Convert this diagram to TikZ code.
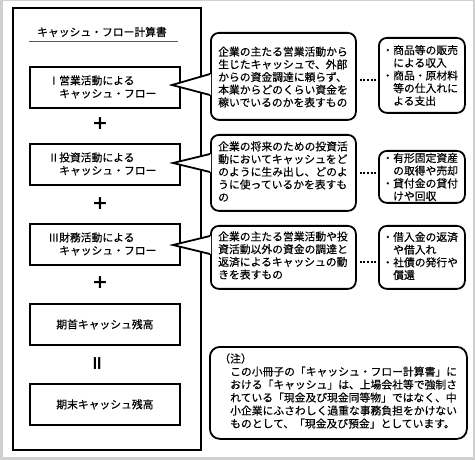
\documentclass[tikz,border=0pt]{standalone}
\usepackage{fontspec}
\setmainfont{Noto Sans CJK JP}[FakeBold=0.35]
\newfontfamily\symfont{DejaVu Sans}
\definecolor{framegray}{RGB}{208,208,208}
\definecolor{rulegray}{RGB}{90,90,90}
\begin{document}
\begin{tikzpicture}[x=1pt,y=-1pt,
  txt/.style={inner sep=0pt, align=left, font=\fontsize{10.8}{12.7}\selectfont},
  boxtxt/.style={inner sep=0pt, align=left, font=\fontsize{10.8}{13}\selectfont},
  sqbox/.style={draw, line width=1.8pt, fill=white, inner sep=0pt, anchor=north west},
  rbox/.style={draw, line width=1.8pt, fill=white, inner sep=0pt, anchor=north west, rounded corners=8pt},
  pointer/.style={line width=1.8pt, line join=miter},
  dotconn/.style={line width=2pt, dash pattern=on 2pt off 1.6pt, shorten <=3pt, shorten >=2pt},
  sym/.style={inner sep=0pt, font=\symfont\bfseries\fontsize{19}{19}\selectfont}]
\useasboundingbox (0,0) rectangle (475,460);
\fill[framegray] (0,0) rectangle (475,460);
\fill[white] (2.5,1) rectangle (473,457);

% outer frame
\node[sqbox, minimum width=188pt, minimum height=442pt] (outer) at (12,7) {};
\node[txt, anchor=center] (title) at (102,32) {キャッシュ・フロー計算書};
\draw[rulegray, line width=0.9pt] (29,41) -- (178,41);

% left boxes
\node[sqbox, minimum width=150pt, minimum height=41pt] (b1) at (29,66) {};
\node[sqbox, minimum width=150pt, minimum height=41pt] (b2) at (29,143) {};
\node[sqbox, minimum width=150pt, minimum height=41pt] (b3) at (29,223) {};
\node[sqbox, minimum width=150pt, minimum height=41pt] (b4) at (29,303) {};
\node[sqbox, minimum width=150pt, minimum height=41pt] (b5) at (29,383) {};
\node[boxtxt, anchor=west] (b1t) at (59,87) {\llap{Ⅰ}営業活動による\\キャッシュ・フロー};
\node[boxtxt, anchor=west] (b2t) at (59,164) {\llap{Ⅱ}投資活動による\\キャッシュ・フロー};
\node[boxtxt, anchor=west] (b3t) at (59,244) {\llap{Ⅲ}財務活動による\\キャッシュ・フロー};
\node[boxtxt] (b4t) at (b4.center) {期首キャッシュ残高};
\node[boxtxt] (b5t) at (b5.center) {期末キャッシュ残高};

\node[sym] (plus1) at (100,124) {+};
\node[sym] (plus2) at (100,204) {+};
\node[sym] (plus3) at (100,283) {+};
\node[sym, rotate=90] (eq) at (99,364) {=};

% callouts
\node[rbox, minimum width=145pt, minimum height=87pt] (c1) at (210,32) {};
\node[rbox, minimum width=145pt, minimum height=76pt] (c2) at (210,134) {};
\node[rbox, minimum width=145pt, minimum height=63pt] (c3) at (210,225) {};
\node[txt, anchor=west] (c1t) at (218,77) {企業の主たる営業活動から\\生じたキャッシュで、外部\\からの資金調達に頼らず、\\本業からどのくらい資金を\\稼いでいるのかを表すもの};
\node[txt, anchor=west] (c2t) at (218,171.5) {企業の将来のための投資活\\動においてキャッシュをど\\のように生み出し、どのよ\\うに使っているかを表すも\\の};
\node[txt, anchor=west] (c3t) at (218,255.5) {企業の主たる営業活動や投\\資活動以外の資金の調達と\\返済によるキャッシュの動\\きを表すもの};

% pointers
\coordinate (t1) at (172,85);
\coordinate (t2) at (173,163);
\coordinate (t3) at (173,245);
\fill[white] (t1) -- ([xshift=1.2pt]c1.west |- 0,74) -- ([xshift=1.2pt]c1.west |- 0,95) -- cycle;
\draw[pointer] (c1.west |- 0,74) -- (t1) -- (c1.west |- 0,95);
\fill[white] (t2) -- ([xshift=1.2pt]c2.west |- 0,154) -- ([xshift=1.2pt]c2.west |- 0,172) -- cycle;
\draw[pointer] (c2.west |- 0,154) -- (t2) -- (c2.west |- 0,172);
\fill[white] (t3) -- ([xshift=1.2pt]c3.west |- 0,236) -- ([xshift=1.2pt]c3.west |- 0,254) -- cycle;
\draw[pointer] (c3.west |- 0,236) -- (t3) -- (c3.west |- 0,254);

% right boxes
\node[rbox, minimum width=86pt, minimum height=75pt] (r1) at (378,37) {};
\node[rbox, minimum width=86pt, minimum height=52pt] (r2) at (378,150) {};
\node[rbox, minimum width=86pt, minimum height=63pt] (r3) at (378,225) {};
\node[txt, anchor=west] (r1t) at (393,75.5) {\llap{・}商品等の販売\\による収入\\\llap{・}商品・原材料\\等の仕入れに\\よる支出};
\node[txt, anchor=west] (r2t) at (393,177) {\llap{・}有形固定資産\\の取得や売却\\\llap{・}貸付金の貸付\\けや回収};
\node[txt, anchor=west] (r3t) at (393,256) {\llap{・}借入金の返済\\や借入れ\\\llap{・}社債の発行や\\償還};

% dotted connectors
\coordinate (d1) at (0,80);
\coordinate (d2) at (0,173);
\coordinate (d3) at (0,262);
\draw[dotconn] (c1.east |- d1) -- (r1.west |- d1);
\draw[dotconn] (c2.east |- d2) -- (r2.west |- d2);
\draw[dotconn] (c3.east |- d3) -- (r3.west |- d3);

% note
\node[rbox, rounded corners=10pt, minimum width=257pt, minimum height=92pt] (note) at (209,346) {};
\node[txt, anchor=west, font=\fontsize{10.8}{13}\selectfont] (notet) at (230,391) {\llap{（}注）\\この小冊子の「キャッシュ・フロー計算書」に\\おける「キャッシュ」は、上場会社等で強制さ\\れている「現金及び現金同等物」ではなく、中\\小企業にふさわしく過重な事務負担をかけない\\ものとして、「現金及び預金」としています。};
\end{tikzpicture}
\end{document}
